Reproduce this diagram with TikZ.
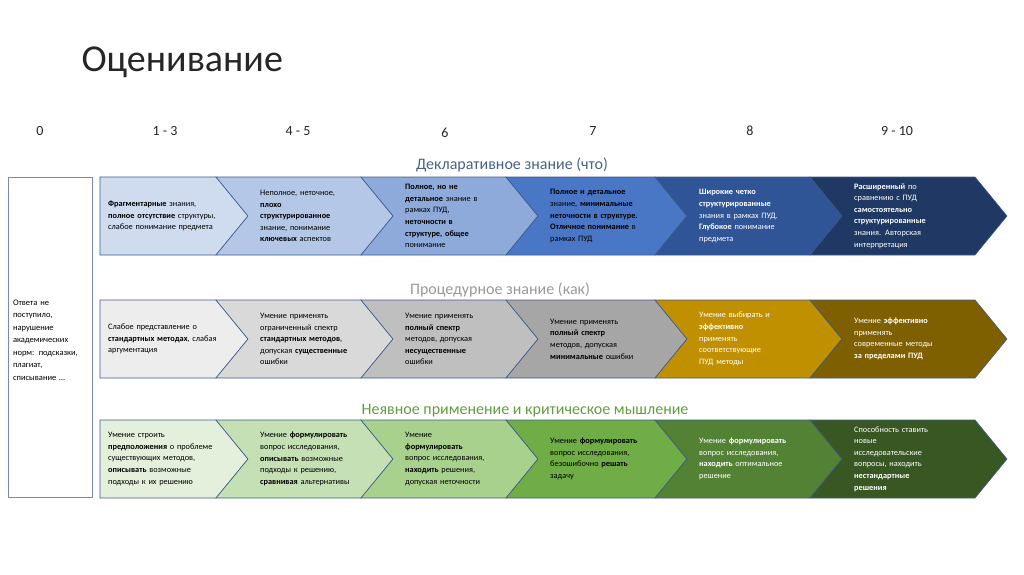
\documentclass[tikz,border=0pt]{standalone}
\usepackage{fontspec}
\setmainfont{Carlito}
\definecolor{edge}{HTML}{3B5A8C}
\definecolor{bA}{HTML}{CFDCF0}\definecolor{bB}{HTML}{B4C7E7}\definecolor{bC}{HTML}{8EAADB}
\definecolor{bD}{HTML}{4A76C6}\definecolor{bE}{HTML}{2F5597}\definecolor{bF}{HTML}{1F3864}
\definecolor{gA}{HTML}{EDEDED}\definecolor{gB}{HTML}{D9D9D9}\definecolor{gC}{HTML}{BFBFBF}
\definecolor{gD}{HTML}{A6A6A6}\definecolor{gE}{HTML}{C09000}\definecolor{gF}{HTML}{7F6000}
\definecolor{vA}{HTML}{E5F0DC}\definecolor{vB}{HTML}{C5E0B4}\definecolor{vC}{HTML}{A9D18E}
\definecolor{vD}{HTML}{70AD47}\definecolor{vE}{HTML}{548235}\definecolor{vF}{HTML}{385723}
\newcommand{\chevbox}[7]{%
  \pgfmathsetmacro{\yb}{#4+78}\pgfmathsetmacro{\ym}{#4+39}
  \pgfmathsetmacro{\xt}{#3+32}\pgfmathsetmacro{\xn}{#2+32}
  \ifdim #2pt=100pt
    \filldraw[fill=#5,draw=edge,line width=0.6pt] (#2,#4) -- (#3,#4) -- (\xt,\ym) -- (#3,\yb) -- (#2,\yb) -- cycle;
    \node[txt,text=#6,anchor=west] (#1) at (#2+8,\ym) {#7};
  \else
    \filldraw[fill=#5,draw=edge,line width=0.6pt] (#2,#4) -- (#3,#4) -- (\xt,\ym) -- (#3,\yb) -- (#2,\yb) -- (\xn,\ym) -- cycle;
    \node[txt,text=#6,anchor=west] (#1) at (#2+44,\ym) {#7};
  \fi}
\begin{document}
\begin{tikzpicture}[x=1pt,y=-1pt,
  txt/.style={align=left,text width=128pt,inner sep=0pt,font=\fontsize{8.3}{11.6}\selectfont},
  hdr/.style={font=\fontsize{14}{16}\selectfont,text=black!85},
  sect/.style={font=\fontsize{16}{18}\selectfont}]
\useasboundingbox (0,0) rectangle (1024,574);
\node[anchor=west,font=\fontsize{38}{40}\selectfont,text=black!85] (title) at (78,62) {Оценивание};
\node[hdr] (h0) at (40,131) {0};
\node[hdr] (h1) at (165,131) {1 - 3};
\node[hdr] (h2) at (298,131) {4 - 5};
\node[hdr] (h3) at (445,133) {6};
\node[hdr] (h4) at (593,131) {7};
\node[hdr] (h5) at (750,131) {8};
\node[hdr] (h6) at (897,131) {9 - 10};
\node[sect,text=edge!80!gray] (s1) at (512,165) {Декларативное знание (что)};
\node[sect,text=black!40] (s2) at (500,290) {Процедурное знание (как)};
\node[sect,text=vD!90!black] (s3) at (525,411) {Неявное применение и критическое мышление};
\draw[edge!70,fill=white,line width=0.6pt] (8,177) rectangle (92,497);
\node[align=left,text width=74pt,inner sep=0pt,font=\fontsize{8.5}{12.5}\selectfont] (zero) at (50,340) {Ответа не поступило, нарушение академических норм: подсказки, плагиат, списывание …};
% row 1
\chevbox{a1}{100}{216}{177}{bA}{black}{\textbf{Фрагментарные} знания,\\\textbf{полное отсутствие} структуры,\\слабое понимание предмета}
\chevbox{a2}{216}{361}{177}{bB}{black}{Неполное, неточное,\\\textbf{плохо}\\\textbf{структурированное}\\знание, понимание\\\textbf{ключевых} аспектов}
\chevbox{a3}{361}{506}{177}{bC}{black}{\textbf{Полное, но не}\\\textbf{детальное} знание в\\рамках ПУД,\\\textbf{неточности в}\\\textbf{структуре, общее}\\понимание}
\chevbox{a4}{506}{655}{177}{bD}{black}{\textbf{Полное и детальное}\\знание, \textbf{минимальные}\\\textbf{неточности в структуре.}\\\textbf{Отличное понимание} в\\рамках ПУД}
\chevbox{a5}{655}{810}{177}{bE}{white}{\textbf{Широкие четко}\\\textbf{структурированные}\\знания в рамках ПУД.\\\textbf{Глубокое} понимание\\предмета}
\chevbox{a6}{810}{975}{177}{bF}{white}{\textbf{Расширенный} по\\сравнению с ПУД\\\textbf{самостоятельно}\\\textbf{структурированные}\\знания. Авторская\\интерпретация}
% row 2
\chevbox{b1}{100}{216}{300}{gA}{black}{Слабое представление о\\\textbf{стандартных методах}, слабая\\аргументация}
\chevbox{b2}{216}{361}{300}{gB}{black}{Умение применять\\ограниченный спектр\\\textbf{стандартных методов},\\допуская \textbf{существенные}\\ошибки}
\chevbox{b3}{361}{506}{300}{gC}{black}{Умение применять\\\textbf{полный спектр}\\методов, допуская\\\textbf{несущественные}\\ошибки}
\chevbox{b4}{506}{655}{300}{gD}{black}{Умение применять\\\textbf{полный спектр}\\методов, допуская\\\textbf{минимальные} ошибки}
\chevbox{b5}{655}{810}{300}{gE}{white}{Умение выбирать и\\\textbf{эффективно}\\применять\\соответствующие\\ПУД методы}
\chevbox{b6}{810}{975}{300}{gF}{white}{Умение \textbf{эффективно}\\применять\\современные методы\\\textbf{за пределами ПУД}}
% row 3
\chevbox{c1}{100}{216}{420}{vA}{black}{Умение строить\\\textbf{предположения} о проблеме\\существующих методов,\\\textbf{описывать} возможные\\подходы к их решению}
\chevbox{c2}{216}{361}{420}{vB}{black}{Умение \textbf{формулировать}\\вопрос исследования,\\\textbf{описывать} возможные\\подходы к решению,\\\textbf{сравнивая} альтернативы}
\chevbox{c3}{361}{506}{420}{vC}{black}{Умение\\\textbf{формулировать}\\вопрос исследования,\\\textbf{находить} решения,\\допуская неточности}
\chevbox{c4}{506}{655}{420}{vD}{black}{Умение \textbf{формулировать}\\вопрос исследования,\\безошибочно \textbf{решать}\\задачу}
\chevbox{c5}{655}{810}{420}{vE}{white}{Умение \textbf{формулировать}\\вопрос исследования,\\\textbf{находить} оптимальное\\решение}
\chevbox{c6}{810}{975}{420}{vF}{white}{Способность ставить\\новые\\исследовательские\\вопросы, находить\\\textbf{нестандартные}\\\textbf{решения}}
\end{tikzpicture}
\end{document}
